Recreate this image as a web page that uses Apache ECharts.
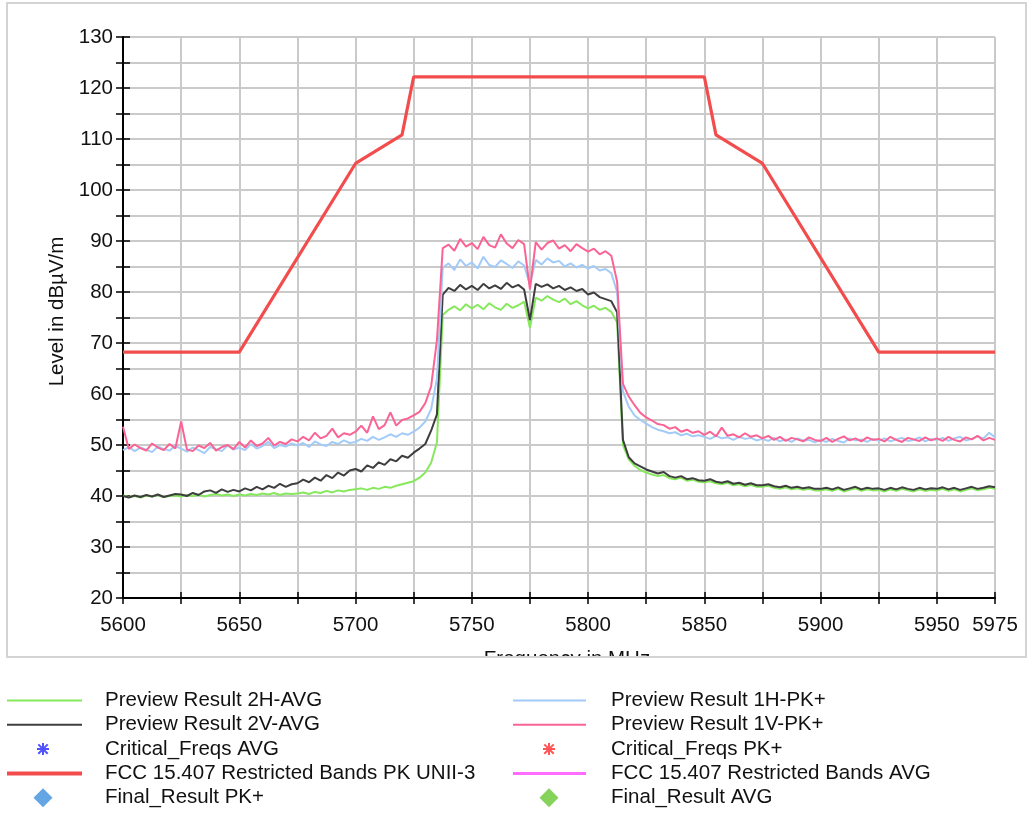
<!DOCTYPE html>
<html>
<head>
<meta charset="utf-8">
<script src="https://cdn.jsdelivr.net/npm/echarts@6/dist/echarts.min.js"></script>
<style>
  html, body { margin: 0; padding: 0; background: #ffffff; }
  #chart { width: 1033px; height: 816px; }
</style>
</head>
<body>
<div id="chart"></div>
<script>
// Preview sweeps: one level every 2.5 MHz from 5600 MHz to 5975 MHz (151 points)
const sweepStartMHz = 5600;
const sweepStepMHz = 2.5;

const level2H_AVG = [
  40.1, 39.8, 40.0, 39.7, 40.1, 39.9, 40.2, 39.8, 40.0, 40.1,
  39.9, 40.2, 40.0, 40.3, 39.9, 40.2, 40.4, 40.1, 40.3, 40.0,
  40.3, 40.1, 40.4, 40.2, 40.5, 40.3, 40.6, 40.2, 40.5, 40.4,
  40.5, 40.7, 40.4, 40.8, 40.6, 41.0, 40.7, 41.1, 40.9, 41.2,
  41.3, 41.5, 41.2, 41.6, 41.4, 41.8, 41.6, 42.0, 42.3, 42.6,
  42.9, 43.6, 44.6, 46.5, 50.5, 75.5, 76.5, 77.2, 76.4, 77.6,
  76.8, 77.5, 76.6, 77.8, 77.0, 76.5, 77.7, 76.9, 77.4, 78.1,
  73.0, 78.9, 78.3, 79.2, 78.5, 78.0, 78.7, 77.6, 78.2, 77.4,
  76.8, 77.3, 76.5, 76.9, 76.1, 74.0, 50.0, 47.2, 45.9, 45.1,
  44.6, 44.2, 43.9, 44.1, 43.5, 43.3, 43.6, 43.0, 43.2, 42.8,
  42.7, 42.9, 42.5, 42.3, 42.6, 42.1, 42.3, 41.9, 42.2, 41.8,
  41.8, 42.0, 41.6, 41.4, 41.7, 41.3, 41.5, 41.2, 41.4, 41.1,
  41.1, 41.3, 41.0, 41.4, 40.9, 41.2, 41.5, 41.0, 41.3, 41.1,
  41.2, 40.9, 41.3, 41.0, 41.4, 41.1, 40.9, 41.3, 41.0, 41.2,
  41.1, 41.4, 41.0, 41.3, 40.9, 41.2, 41.5, 41.1, 41.3, 41.6, 41.4
];

const level2V_AVG = [
  40.0, 39.7, 40.1, 39.8, 40.2, 39.9, 40.3, 39.8, 40.1, 40.4,
  40.3, 40.0, 40.6, 40.2, 40.9, 41.1, 40.6, 41.3, 40.8, 41.2,
  40.9, 41.5, 41.1, 41.8, 41.3, 42.0, 41.6, 42.4, 41.8, 42.3,
  42.5, 43.2, 42.7, 43.6, 43.0, 44.1, 43.5, 44.6, 44.0, 45.0,
  45.3, 44.8, 46.0, 45.5, 46.6, 46.1, 47.2, 46.8, 47.9, 47.5,
  48.5, 49.3, 50.2, 52.8, 56.0, 79.5, 80.8, 80.2, 81.4, 80.5,
  81.2, 80.4, 81.6, 80.7, 81.3, 80.6, 81.8, 80.9, 81.4, 80.5,
  74.5, 81.6, 81.0, 81.5, 80.7, 81.2, 80.4, 80.9, 80.2, 80.6,
  79.5, 79.9, 79.0, 78.6, 78.2, 76.0, 51.0, 47.6, 46.4, 45.8,
  45.2, 44.8, 44.4, 44.7, 43.9, 43.6, 43.9, 43.3, 43.5, 43.1,
  43.0, 43.3, 42.8, 42.6, 42.9, 42.4, 42.6, 42.2, 42.5, 42.1,
  42.1, 42.3, 41.9, 41.7, 42.0, 41.6, 41.8, 41.5, 41.7, 41.4,
  41.4, 41.6, 41.3, 41.7, 41.2, 41.5, 41.8, 41.3, 41.6, 41.4,
  41.5, 41.2, 41.6, 41.3, 41.7, 41.4, 41.2, 41.6, 41.3, 41.5,
  41.4, 41.7, 41.3, 41.6, 41.2, 41.5, 41.8, 41.4, 41.6, 41.9, 41.7
];

const level1H_PK = [
  49.0, 49.6, 48.8, 49.5, 49.1, 48.6, 49.7, 49.2, 48.9, 49.8,
  49.3, 48.7, 49.5, 49.0, 48.4, 49.6, 49.2, 48.8, 49.9, 49.1,
  49.5, 49.0, 50.2, 49.3, 49.8, 50.6, 49.4, 50.0, 49.7, 50.3,
  49.9, 50.4, 49.6, 50.7, 50.1, 49.8, 50.6, 50.2, 50.9, 50.4,
  50.6, 51.2, 50.8, 51.6, 51.0, 51.5, 52.1, 51.6, 52.3, 52.0,
  52.6, 53.4, 54.6, 57.0, 63.0, 84.8, 85.6, 84.3, 86.4, 85.1,
  85.8, 84.6, 86.9, 85.3, 84.9, 86.2, 85.5, 84.7, 86.0, 85.2,
  81.5, 86.3, 85.4, 86.6, 85.8, 86.1, 85.0, 85.6, 84.8, 85.3,
  84.6, 85.1, 84.2, 84.5, 83.7, 80.0, 60.5, 57.5, 55.8, 54.9,
  54.2, 53.5, 53.0, 52.7, 52.3, 52.5, 51.9, 52.2, 51.7, 51.9,
  51.6, 51.2, 51.8, 51.3, 51.5, 51.0, 51.6, 51.2, 51.4, 50.9,
  51.2, 50.8, 51.4, 50.7, 51.1, 50.6, 51.3, 50.9, 51.0, 50.5,
  51.0, 50.6, 51.2, 50.8, 50.5, 51.3, 50.9, 51.1, 50.6, 51.2,
  50.8, 51.3, 50.7, 51.1, 51.4, 50.8, 51.0, 51.5, 50.7, 51.2,
  51.0, 51.4, 50.8, 51.3, 51.6, 50.9, 51.2, 51.7, 51.3, 52.4, 51.5
];

const level1V_PK = [
  53.6, 49.2, 50.1, 49.4, 48.9, 50.3, 49.5, 49.0, 50.2, 49.3,
  54.6, 49.1, 48.8, 49.9, 49.4, 50.4, 48.9, 49.6, 50.0, 49.2,
  50.6, 49.5, 50.9, 49.8, 50.3, 51.4, 49.9, 50.6, 50.2, 51.1,
  50.7, 51.6, 50.9, 52.4, 51.3, 51.8, 53.2, 51.5, 52.3, 52.0,
  52.6, 53.8, 52.4, 55.6, 53.1, 53.9, 56.4, 53.8, 54.9, 55.2,
  55.8, 56.5, 58.2, 61.5, 70.5, 88.6, 89.3, 88.1, 90.4, 88.9,
  89.6, 88.4, 90.8, 89.2, 88.7, 91.3, 89.5, 88.6, 90.2, 89.4,
  80.5, 89.8, 88.3, 89.6, 90.1, 88.5, 89.2, 88.0, 89.4, 88.6,
  87.9, 88.5, 87.4, 88.0, 87.1, 82.0, 62.0, 59.5, 57.8, 56.3,
  55.4, 54.8, 54.1, 53.9, 53.2, 53.5, 52.6, 53.0, 52.4, 52.7,
  52.0, 52.6, 51.7, 53.4, 51.8, 52.1, 51.5, 52.3, 51.6, 51.9,
  51.3, 51.8, 51.0, 51.6, 50.8, 51.4, 51.1, 50.7, 51.5, 51.0,
  50.8, 51.4, 50.6, 51.2, 51.7, 50.9, 51.3, 50.7, 51.5, 51.0,
  51.2, 50.7, 51.6, 51.0, 50.6, 51.4, 51.1, 50.8, 51.5, 50.9,
  51.3, 50.8, 51.6, 51.0, 50.7, 51.5, 51.1, 51.8, 50.9, 51.4, 51.0
];

// FCC 15.407 UNII-3 peak limit (dBµV/m) at its break frequencies
const limitFreqs = [5600, 5650, 5700, 5720, 5725, 5850, 5855, 5875, 5925, 5975];
const limitPK    = [68.2, 68.2, 105.2, 110.8, 122.2, 122.2, 110.8, 105.2, 68.2, 68.2];

// Labelled frequency ticks
const freqTickLabels = [5600, 5650, 5700, 5750, 5800, 5850, 5900, 5950, 5975];

const FONT = '"Liberation Sans", Arial, sans-serif';
const FS = 20.5;
const ASTERISK = 'path://M5 0 L7 0 L7 12 L5 12 Z M0 5 L12 5 L12 7 L0 7 Z M0.6 2 L2 0.6 L11.4 10 L10 11.4 Z M10 0.6 L11.4 2 L2 11.4 L0.6 10 Z';

function sweep(levels) {
  return levels.map((v, i) => [sweepStartMHz + i * sweepStepMHz, v]);
}
function pairs(xs, ys) {
  return xs.map((x, i) => [x, ys[i]]);
}

const COLORS = {
  '2H': '#86e85c',
  '2V': '#3e3e3e',
  '1H': '#a2cbf7',
  '1V': '#fa6494',
  critAvg: '#2424ff',
  critPk: '#ff2a2a',
  limPk: '#f24c4c',
  limAvg: '#ff6cff',
  finPk: '#3d8fdc',
  finAvg: '#66c832'
};

// Two-column legend: col 0 at x=7, col 1 at x=513; one row every ~24 px
const legendCells = [
  { name: 'Preview Result 2H-AVG', col: 0, row: 0, icon: 'rect', w: 75, h: 2 },
  { name: 'Preview Result 2V-AVG', col: 0, row: 1, icon: 'rect', w: 75, h: 2 },
  { name: 'Critical_Freqs AVG', col: 0, row: 2, icon: ASTERISK, w: 12, h: 12 },
  { name: 'FCC 15.407 Restricted Bands PK UNII-3', col: 0, row: 3, icon: 'rect', w: 75, h: 4 },
  { name: 'Final_Result PK+', col: 0, row: 4, icon: 'diamond', w: 19, h: 19 },
  { name: 'Preview Result 1H-PK+', col: 1, row: 0, icon: 'rect', w: 73, h: 2 },
  { name: 'Preview Result 1V-PK+', col: 1, row: 1, icon: 'rect', w: 73, h: 2 },
  { name: 'Critical_Freqs PK+', col: 1, row: 2, icon: ASTERISK, w: 12, h: 12 },
  { name: 'FCC 15.407 Restricted Bands AVG', col: 1, row: 3, icon: 'rect', w: 73, h: 3 },
  { name: 'Final_Result AVG', col: 1, row: 4, icon: 'diamond', w: 19, h: 19 }
];
const colX = [7, 513];
const rowCenter0 = 700.5, rowPitch = 24.3, rowH = 22;

const legends = legendCells.map(c => {
  const isLine = c.icon === 'rect';
  const left = isLine ? colX[c.col] : colX[c.col] + 36 - c.w / 2;
  const textX = colX[c.col] + 98;
  const pad = textX - (left + c.w + 5);
  return {
    data: [{ name: c.name, icon: c.icon }],
    left: left,
    top: rowCenter0 + c.row * rowPitch - rowH / 2,
    orient: 'horizontal',
    padding: 0,
    itemGap: 0,
    itemWidth: c.w,
    itemHeight: c.h,
    selectedMode: false,
    textStyle: {
      fontFamily: FONT, fontSize: FS, color: '#111', lineHeight: rowH,
      padding: [0, 0, 0, pad]
    }
  };
});

const chart = echarts.init(document.getElementById('chart'), null, { renderer: 'canvas' });

chart.setOption({
  animation: false,
  backgroundColor: '#ffffff',
  textStyle: { fontFamily: FONT },
  grid: { left: 123, right: 38, top: 37, bottom: 218, containLabel: false },
  xAxis: [
    {
      type: 'value', min: 5600, max: 5975, interval: 25, position: 'bottom',
      name: 'Frequency in MHz', nameLocation: 'middle', nameGap: 51,
      nameTextStyle: { fontFamily: FONT, fontSize: FS, color: '#111', padding: [0, 0, 0, 16] },
      axisLine: { show: true, lineStyle: { color: '#000', width: 2 } },
      axisTick: { show: true, length: 6, lineStyle: { color: '#000', width: 1.5 } },
      axisLabel: {
        fontFamily: FONT, fontSize: FS, color: '#111', margin: 17,
        formatter: v => (freqTickLabels.indexOf(v) >= 0 ? String(v) : '')
      },
      splitLine: { show: true, lineStyle: { color: '#cacaca', width: 2 } }
    },
    {
      type: 'value', min: 5600, max: 5975, interval: 25, position: 'bottom',
      axisLine: { show: false },
      axisTick: { show: true, inside: true, length: 6, lineStyle: { color: '#000', width: 1.5 } },
      axisLabel: { show: false },
      splitLine: { show: false }
    }
  ],
  yAxis: [
    {
      type: 'value', min: 20, max: 130, interval: 5, position: 'left',
      name: 'Level in dBµV/m', nameLocation: 'middle', nameGap: 55,
      nameTextStyle: { fontFamily: FONT, fontSize: FS, color: '#111', padding: [0, 0, 0, 12] },
      axisLine: { show: true, lineStyle: { color: '#000', width: 2 } },
      axisTick: { show: true, length: 7, lineStyle: { color: '#000', width: 1.5 } },
      axisLabel: {
        fontFamily: FONT, fontSize: FS, color: '#111', margin: 10,
        formatter: v => (v % 10 === 0 ? String(v) : '')
      },
      splitLine: { show: true, lineStyle: { color: '#cacaca', width: 2 } }
    },
    {
      type: 'value', min: 20, max: 130, interval: 5, position: 'left',
      axisLine: { show: false },
      axisTick: { show: true, inside: true, length: 7, lineStyle: { color: '#000', width: 1.5 } },
      axisLabel: { show: false },
      splitLine: { show: false }
    }
  ],
  legend: legends,
  series: [
    {
      name: 'Preview Result 2H-AVG', type: 'line', data: sweep(level2H_AVG),
      color: COLORS['2H'], showSymbol: false, lineStyle: { width: 2 }, z: 2,
      emphasis: { disabled: true }
    },
    {
      name: 'Preview Result 2V-AVG', type: 'line', data: sweep(level2V_AVG),
      color: COLORS['2V'], showSymbol: false, lineStyle: { width: 2 }, z: 3,
      emphasis: { disabled: true }
    },
    {
      name: 'Preview Result 1H-PK+', type: 'line', data: sweep(level1H_PK),
      color: COLORS['1H'], showSymbol: false, lineStyle: { width: 2 }, z: 4,
      emphasis: { disabled: true }
    },
    {
      name: 'Preview Result 1V-PK+', type: 'line', data: sweep(level1V_PK),
      color: COLORS['1V'], showSymbol: false, lineStyle: { width: 2 }, z: 5,
      emphasis: { disabled: true }
    },
    {
      name: 'Critical_Freqs AVG', type: 'scatter', data: [],
      color: COLORS.critAvg, symbol: ASTERISK, symbolSize: 12
    },
    {
      name: 'Critical_Freqs PK+', type: 'scatter', data: [],
      color: COLORS.critPk, symbol: ASTERISK, symbolSize: 12
    },
    {
      name: 'FCC 15.407 Restricted Bands PK UNII-3', type: 'line',
      data: pairs(limitFreqs, limitPK),
      color: COLORS.limPk, showSymbol: false, lineStyle: { width: 3.2 }, z: 6,
      emphasis: { disabled: true }
    },
    {
      name: 'FCC 15.407 Restricted Bands AVG', type: 'line', data: [],
      color: COLORS.limAvg, showSymbol: false, lineStyle: { width: 2 }
    },
    {
      name: 'Final_Result PK+', type: 'scatter', data: [],
      color: COLORS.finPk, symbol: 'diamond', symbolSize: 19
    },
    {
      name: 'Final_Result AVG', type: 'scatter', data: [],
      color: COLORS.finAvg, symbol: 'diamond', symbolSize: 19
    }
  ],
  graphic: [
    {
      // panel edge clips the lower half of the frequency caption
      type: 'rect', z: 100,
      shape: { x: 0, y: 658, width: 1033, height: 16 },
      style: { fill: '#ffffff' }
    },
    {
      type: 'rect', z: 101,
      shape: { x: 7, y: 3, width: 1019, height: 654 },
      style: { fill: null, stroke: '#d4d4d4', lineWidth: 2 }
    }
  ]
});
</script>
</body>
</html>
